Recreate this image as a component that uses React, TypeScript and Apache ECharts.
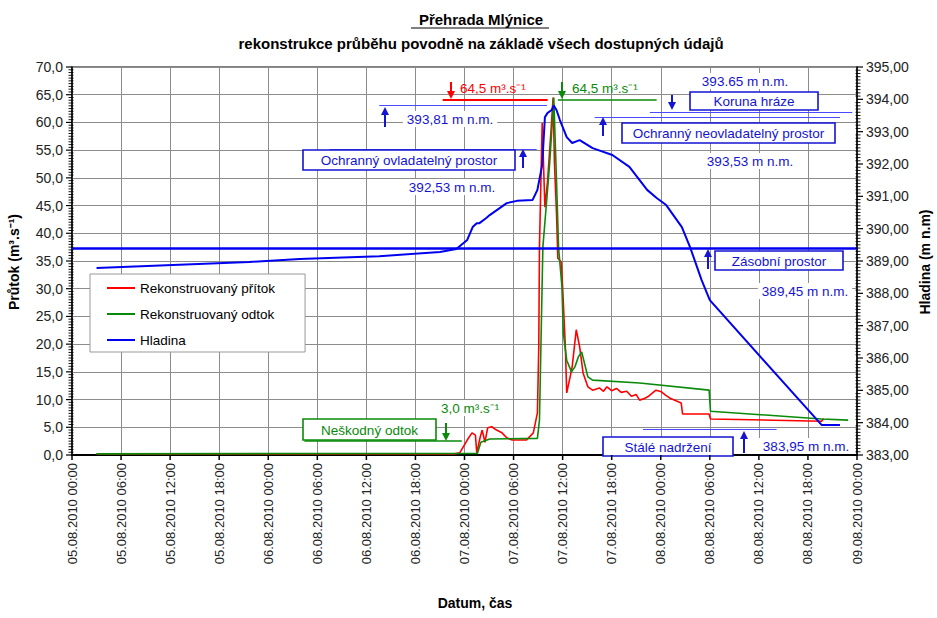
import React, { useEffect, useRef } from 'react';
import * as echarts from 'echarts';

const FONT = '"Liberation Sans", Arial, Helvetica, sans-serif';

// ---- data (time "DD.MM HH:MM" in August 2010) ----
const xTickLabels = [
  '05.08.2010 00:00', '05.08.2010 06:00', '05.08.2010 12:00', '05.08.2010 18:00',
  '06.08.2010 00:00', '06.08.2010 06:00', '06.08.2010 12:00', '06.08.2010 18:00',
  '07.08.2010 00:00', '07.08.2010 06:00', '07.08.2010 12:00', '07.08.2010 18:00',
  '08.08.2010 00:00', '08.08.2010 06:00', '08.08.2010 12:00', '08.08.2010 18:00',
  '09.08.2010 00:00',
];

const inflow: [string, number][] = [
  ['05.08 03:00', 0.2], ['06.08 22:50', 0.2], ['06.08 23:25', 0.4], ['07.08 00:20', 2.7],
  ['07.08 00:55', 4.0], ['07.08 01:20', 3.6], ['07.08 01:30', 0.4], ['07.08 01:40', 1.5],
  ['07.08 01:55', 3.2], ['07.08 02:10', 4.5], ['07.08 02:30', 2.3], ['07.08 02:50', 4.9],
  ['07.08 03:20', 5.1], ['07.08 03:55', 4.5], ['07.08 04:35', 4.0], ['07.08 05:10', 3.1],
  ['07.08 05:50', 2.7], ['07.08 07:35', 2.7], ['07.08 08:25', 4.0], ['07.08 08:55', 7.6],
  ['07.08 09:05', 19.5], ['07.08 09:10', 37.5], ['07.08 09:30', 59.9], ['07.08 09:50', 44.7],
  ['07.08 10:10', 49.6], ['07.08 10:35', 58.6], ['07.08 10:50', 64.5], ['07.08 11:00', 52.7],
  ['07.08 11:15', 43.7], ['07.08 11:25', 35.5], ['07.08 11:50', 34.8], ['07.08 12:00', 30.3],
  ['07.08 12:20', 19.5], ['07.08 12:30', 11.2], ['07.08 12:55', 14.1], ['07.08 13:10', 15.9],
  ['07.08 13:40', 22.6], ['07.08 14:05', 19.5], ['07.08 14:30', 14.8], ['07.08 15:05', 12.3],
  ['07.08 15:40', 11.7], ['07.08 16:30', 12.1], ['07.08 17:00', 11.5], ['07.08 17:25', 12.3],
  ['07.08 18:00', 11.6], ['07.08 18:35', 12.0], ['07.08 19:10', 11.3], ['07.08 19:50', 11.5],
  ['07.08 20:25', 10.6], ['07.08 21:00', 10.9], ['07.08 21:25', 9.9], ['07.08 22:00', 10.2],
  ['07.08 22:25', 10.5], ['07.08 23:00', 11.2], ['07.08 23:25', 11.7], ['08.08 00:05', 11.4],
  ['08.08 00:35', 10.8], ['08.08 01:05', 10.3], ['08.08 02:30', 9.4], ['08.08 02:40', 7.4],
  ['08.08 05:55', 7.4], ['08.08 06:05', 6.5], ['08.08 19:40', 6.1], ['08.08 19:55', 6.6],
];

const outflow: [string, number][] = [
  ['05.08 03:00', 0.2], ['07.08 01:35', 0.3], ['07.08 02:00', 2.3], ['07.08 03:05', 2.9],
  ['07.08 08:55', 3.0], ['07.08 09:10', 6.3], ['07.08 09:35', 37.5], ['07.08 10:05', 46.5],
  ['07.08 10:25', 52.7], ['07.08 10:50', 62.2], ['07.08 10:55', 64.5], ['07.08 11:15', 49.6],
  ['07.08 11:30', 37.5], ['07.08 11:55', 30.3], ['07.08 12:05', 22.0], ['07.08 12:30', 17.1],
  ['07.08 13:05', 15.0], ['07.08 13:30', 15.9], ['07.08 13:55', 17.7], ['07.08 14:20', 18.6],
  ['07.08 14:40', 16.6], ['07.08 15:05', 14.1], ['07.08 15:40', 13.5], ['07.08 21:25', 13.0],
  ['08.08 05:55', 11.7], ['08.08 06:05', 7.9], ['08.08 19:40', 6.5], ['08.08 22:55', 6.3],
];

const level: [string, number][] = [
  ['05.08 03:00', 388.78], ['05.08 21:40', 388.97], ['06.08 03:50', 389.06], ['06.08 13:35', 389.15],
  ['06.08 21:00', 389.28], ['06.08 23:00', 389.37], ['07.08 00:20', 389.65], ['07.08 01:00', 390.05],
  ['07.08 01:30', 390.17], ['07.08 01:50', 390.17], ['07.08 02:40', 390.33], ['07.08 03:05', 390.42],
  ['07.08 05:10', 390.79], ['07.08 06:25', 390.86], ['07.08 08:20', 390.89], ['07.08 08:55', 391.20],
  ['07.08 09:30', 391.97], ['07.08 09:50', 393.45], ['07.08 10:10', 393.58], ['07.08 10:40', 393.67],
  ['07.08 10:55', 393.81], ['07.08 11:15', 393.67], ['07.08 11:40', 393.36], ['07.08 12:30', 392.83],
  ['07.08 13:10', 392.65], ['07.08 14:05', 392.74], ['07.08 15:40', 392.49], ['07.08 18:05', 392.28],
  ['07.08 20:10', 391.91], ['07.08 21:25', 391.50], ['07.08 22:20', 391.20], ['07.08 23:30', 390.95],
  ['08.08 00:40', 390.73], ['08.08 02:35', 390.05], ['08.08 03:35', 389.43], ['08.08 05:00', 388.41],
  ['08.08 06:00', 387.79], ['08.08 19:40', 383.93], ['08.08 21:55', 383.93],
];

const seriesNames = ['Rekonstruovaný přítok', 'Rekonstruovaný odtok', 'Hladina'];
const RED = '#ff0000';
const GREEN = '#0a8a0a';
const BLUE = '#0000f0';
const TBLUE = '#1414d2';
const THIN = '#4a4aff';

const toHours = (t: string) => {
  const [d, hm] = t.split(' ');
  const day = parseInt(d.split('.')[0], 10);
  const [h, m] = hm.split(':').map((s) => parseInt(s, 10));
  return (day - 5) * 24 + h + m / 60;
};
const conv = (arr: [string, number][]) => arr.map(([t, v]) => [toHours(t), v]);

const seg = (t1: string, t2: string, v: number, style?: any) => [
  { coord: [toHours(t1), v], ...(style ? { lineStyle: style } : {}) },
  { coord: [toHours(t2), v] },
];

const txt = (x: number, y: number, text: string, color: string, o: any = {}) => ({
  type: 'text',
  x,
  y,
  z: 110,
  rotation: o.rotation || 0,
  style: {
    text,
    fill: color,
    fontSize: o.size || 13.5,
    fontFamily: FONT,
    fontWeight: o.weight || 'normal',
    align: o.align || 'center',
    verticalAlign: 'middle',
    textAlign: o.align || 'center',
    textVerticalAlign: 'middle',
    ...(o.bg ? { backgroundColor: o.bg, padding: [1, 4] } : {}),
  },
});

const box = (x: number, y: number, w: number, h: number, text: string, color: string) => [
  { type: 'rect', z: 105, shape: { x, y, width: w, height: h }, style: { fill: '#fff', stroke: color, lineWidth: 1.6 } },
  txt(x + w / 2, y + h / 2 + 0.5, text, color),
];

const arrow = (x: number, y0: number, y1: number, color: string) => {
  const dir = y1 > y0 ? 1 : -1;
  return [
    { type: 'line', z: 105, shape: { x1: x, y1: y0, x2: x, y2: y1 - dir * 6 }, style: { stroke: color, lineWidth: 2 } },
    { type: 'polygon', z: 105, shape: { points: [[x - 4, y1 - dir * 8], [x + 4, y1 - dir * 8], [x, y1]] }, style: { fill: color } },
  ];
};

const tickLine = (x1: number, y1: number, x2: number, y2: number, w: number) => ({
  type: 'line',
  z: 120,
  silent: true,
  shape: { x1, y1, x2, y2 },
  style: { stroke: '#000', lineWidth: w },
});

export default function App() {
  const ref = useRef<HTMLDivElement>(null);
  useEffect(() => {
    if (!ref.current) return;
    const chart = echarts.init(ref.current, undefined, { renderer: 'svg' });
    const gridColor = '#8c8c8c';
    const graphic: any[] = [
      txt(481, 19, 'Přehrada Mlýnice', '#000', { size: 15, weight: 'bold' }),
      { type: 'line', z: 110, shape: { x1: 411, y1: 28, x2: 549, y2: 28 }, style: { stroke: '#000', lineWidth: 1 } },
      txt(481, 43, 'rekonstrukce průběhu povodně na základě všech dostupných údajů', '#000', { size: 15, weight: 'bold' }),
      txt(14, 262, 'Průtok (m³.s⁻¹)', '#000', { size: 14, weight: 'bold', rotation: Math.PI / 2 }),
      txt(925, 262, 'Hladina (m n.m)', '#000', { size: 14, weight: 'bold', rotation: Math.PI / 2 }),
      txt(475, 603, 'Datum, čas', '#000', { size: 14, weight: 'bold' }),

      ...arrow(451, 82, 99, RED),
      txt(460, 88, '64,5 m³.s⁻¹', RED, { align: 'left' }),
      ...arrow(562, 82, 99, GREEN),
      txt(572, 88, '64,5 m³.s⁻¹', GREEN, { align: 'left' }),

      txt(745, 81, '393.65 m n.m.', TBLUE, { bg: '#fff' }),
      ...box(690, 92, 128, 18, 'Koruna hráze', TBLUE),
      ...arrow(672, 95, 110, TBLUE),

      txt(450, 119, '393,81 m n.m.', TBLUE, { bg: '#fff' }),
      ...arrow(385, 127, 107, TBLUE),

      ...box(622, 123, 213, 20, 'Ochranný neovladatelný prostor', TBLUE),
      ...arrow(603, 136, 117, TBLUE),
      txt(750, 161, '393,53 m n.m.', TBLUE, { bg: '#fff' }),

      ...box(303, 150, 212, 20, 'Ochranný ovladatelný prostor', TBLUE),
      ...arrow(523, 168, 149, TBLUE),
      txt(452, 187, '392,53 m n.m.', TBLUE, { bg: '#fff' }),

      ...box(715, 251, 128, 19, 'Zásobní prostor', TBLUE),
      ...arrow(708, 269, 249, TBLUE),
      txt(805, 291, '389,45 m n.m.', TBLUE, { bg: '#fff' }),

      ...box(303, 419, 133, 21, 'Neškodný odtok', GREEN),
      ...arrow(446, 423, 441, GREEN),
      txt(470, 408, '3,0 m³.s⁻¹', GREEN, { bg: '#fff' }),

      ...box(603, 437, 130, 19, 'Stálé nadržení', TBLUE),
      ...arrow(744, 453, 431, TBLUE),
      txt(806, 446, '383,95 m n.m.', TBLUE, { bg: '#fff' }),
    ];

    const option: any = {
      animation: false,
      backgroundColor: '#fff',
      textStyle: { fontFamily: FONT },
      grid: { left: 72, right: 80, top: 67, bottom: 163, show: true, borderColor: '#000', borderWidth: 1, backgroundColor: 'transparent' },
      legend: {
        orient: 'vertical',
        left: 90,
        top: 274,
        icon: 'rect',
        itemWidth: 28,
        itemHeight: 2,
        itemGap: 12,
        padding: [7, 30, 5, 17],
        backgroundColor: '#fff',
        borderColor: '#999',
        borderWidth: 1,
        textStyle: { fontSize: 13.5, color: '#000', fontFamily: FONT },
        data: seriesNames,
        selectedMode: false,
      },
      xAxis: {
        type: 'value',
        min: 0,
        max: 96,
        interval: 6,
        axisLine: { show: true, onZero: false, lineStyle: { color: '#000', width: 2 } },
        axisTick: { show: false },
        axisLabel: {
          rotate: 90,
          fontSize: 13,
          color: '#222',
          fontFamily: FONT,
          margin: 8,
          showMinLabel: true,
          showMaxLabel: true,
          formatter: (v: number) => xTickLabels[Math.round(v / 6)] ?? '',
        },
        splitLine: { show: true, lineStyle: { color: gridColor, width: 1 } },
      },
      yAxis: [
        {
          type: 'value',
          min: 0,
          max: 70,
          interval: 5,
          position: 'left',
          axisLine: { show: true, lineStyle: { color: '#000', width: 1.5 } },
          axisTick: { show: false },
          axisLabel: { fontSize: 14, color: '#222', fontFamily: FONT, margin: 9, formatter: (v: number) => v.toFixed(1).replace('.', ',') },
          splitLine: { show: true, lineStyle: { color: gridColor, width: 1 } },
        },
        {
          type: 'value',
          min: 383,
          max: 395,
          interval: 1,
          position: 'right',
          axisLine: { show: true, lineStyle: { color: '#000', width: 1.5 } },
          axisTick: { show: false },
          axisLabel: { fontSize: 14, color: '#222', fontFamily: FONT, margin: 9, formatter: (v: number) => v.toFixed(2).replace('.', ',') },
          splitLine: { show: false },
        },
      ],
      series: [
        {
          name: seriesNames[0],
          type: 'line',
          yAxisIndex: 0,
          symbol: 'none',
          data: conv(inflow),
          lineStyle: { color: RED, width: 1.6 },
          itemStyle: { color: RED },
          markLine: {
            silent: true,
            symbol: ['none', 'none'],
            label: { show: false },
            lineStyle: { color: RED, width: 2, type: 'solid' },
            data: [seg('06.08 21:20', '07.08 10:10', 64.1)],
          },
        },
        {
          name: seriesNames[1],
          type: 'line',
          yAxisIndex: 0,
          symbol: 'none',
          data: conv(outflow),
          lineStyle: { color: GREEN, width: 1.6 },
          itemStyle: { color: GREEN },
          markLine: {
            silent: true,
            symbol: ['none', 'none'],
            label: { show: false },
            lineStyle: { color: GREEN, width: 1.6, type: 'solid' },
            data: [seg('07.08 11:25', '07.08 23:30', 64.1), seg('06.08 04:25', '06.08 23:40', 2.6)],
          },
        },
        {
          name: seriesNames[2],
          type: 'line',
          yAxisIndex: 1,
          symbol: 'none',
          data: conv(level),
          lineStyle: { color: BLUE, width: 2 },
          itemStyle: { color: BLUE },
          markLine: {
            silent: true,
            symbol: ['none', 'none'],
            label: { show: false },
            lineStyle: { color: THIN, width: 1, type: 'solid' },
            data: [
              seg('06.08 13:35', '07.08 10:05', 393.81),
              seg('07.08 22:40', '08.08 23:25', 393.59),
              seg('07.08 15:55', '08.08 21:55', 393.44),
              seg('06.08 07:30', '07.08 08:50', 392.46),
              seg('07.08 21:50', '08.08 14:10', 383.80),
              seg('05.08 00:00', '09.08 00:00', 389.38, { color: BLUE, width: 2.5 }),
            ],
          },
        },
      ],
    };
    chart.setOption(option);

    // axis ticks (major + minor) placed through the axes' own scales
    const ticks: any[] = [];
    const xL = chart.convertToPixel({ xAxisIndex: 0 }, 0) as number;
    const xR = chart.convertToPixel({ xAxisIndex: 0 }, 96) as number;
    const yB = chart.convertToPixel({ yAxisIndex: 0 }, 0) as number;
    for (let i = 0; i <= 140; i++) {
      const v = i * 0.5;
      const y = chart.convertToPixel({ yAxisIndex: 0 }, v) as number;
      const major = i % 10 === 0;
      ticks.push(tickLine(xL - (major ? 6 : 3.5), y, xL + (major ? 0 : 1.5), y, major ? 1.2 : 0.9));
    }
    for (let i = 0; i <= 120; i++) {
      const v = 383 + i * 0.1;
      const y = chart.convertToPixel({ yAxisIndex: 1 }, v) as number;
      const major = i % 10 === 0;
      ticks.push(tickLine(xR - (major ? 0 : 1.5), y, xR + (major ? 6 : 3.5), y, major ? 1.2 : 0.9));
    }
    for (let i = 0; i <= 16; i++) {
      const x = chart.convertToPixel({ xAxisIndex: 0 }, i * 6) as number;
      ticks.push(tickLine(x, yB, x, yB + 5, 1.5));
    }
    chart.setOption({ graphic: [...graphic, ...ticks] });
    return () => chart.dispose();
  }, []);
  return <div ref={ref} style={{ position: 'fixed', left: 0, top: 0, width: 937, height: 618 }} />;
}
